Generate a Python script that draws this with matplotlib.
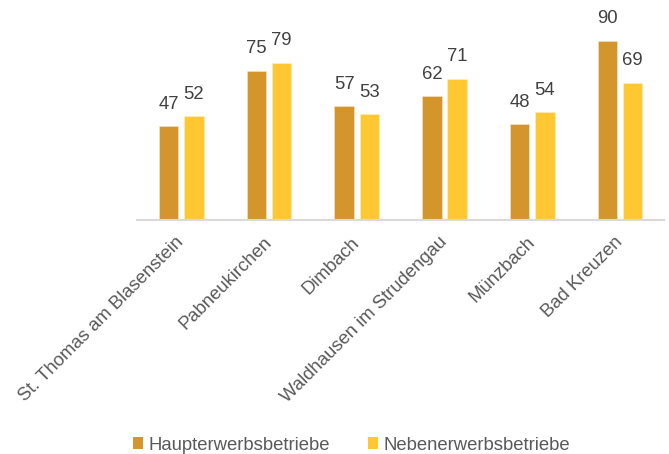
import matplotlib
matplotlib.use("Agg")
import matplotlib.pyplot as plt
import numpy as np
from matplotlib.patches import Patch

categories = ["St. Thomas am Blasenstein", "Pabneukirchen", "Dimbach",
              "Waldhausen im Strudengau", "Münzbach", "Bad Kreuzen"]
haupt = [47, 75, 57, 62, 48, 90]
neben = [52, 79, 53, 71, 54, 69]
series_names = ["Haupterwerbsbetriebe", "Nebenerwerbsbetriebe"]
colors = ["#D4962C", "#FFC832"]

plt.rcParams['font.family'] = ['Liberation Sans', 'DejaVu Sans']
FS = 13.3

fig = plt.figure(figsize=(6.69, 4.54), dpi=100)
W, H = 669, 454
left, right, bottom, top = 137.3, 664, 220.5, 10
ax = fig.add_axes([left / W, 1 - bottom / H, (right - left) / W, (bottom - top) / H])

x = np.arange(len(categories))
bw = 0.222
off = 0.1435
b1 = ax.bar(x - off, haupt, bw, color=colors[0], edgecolor="#F5E6C8", linewidth=0.4)
b2 = ax.bar(x + off, neben, bw, color=colors[1], edgecolor="#FFF0C0", linewidth=0.4)

for bars, vals in ((b1, haupt), (b2, neben)):
    for r, v in zip(bars, vals):
        ax.annotate(str(v), (r.get_x() + r.get_width() / 2, v), xytext=(0, 10),
                    textcoords="offset points", ha="center", va="bottom",
                    fontsize=FS, color="#404040")

ax.set_xlim(-0.5, len(categories) - 0.5)
ax.set_ylim(0, (bottom - top) / 2.0)
ax.set_yticks([])
ax.set_xticks(x)
ax.set_xticklabels(categories, rotation=45, ha="right", va="center",
                   rotation_mode="anchor", fontsize=FS, color="#595959")
ax.tick_params(axis="x", length=0, pad=14)
for s in ["top", "right", "left"]:
    ax.spines[s].set_visible(False)
ax.spines["bottom"].set_color("#D9D9D9")
ax.spines["bottom"].set_linewidth(1.5)

handles = [Patch(facecolor=colors[0], label=series_names[0]),
           Patch(facecolor=colors[1], label=series_names[1])]
leg = fig.legend(handles=handles, loc="center", bbox_to_anchor=(351.5 / W, 1 - 445 / H),
                 ncol=2, frameon=False, fontsize=FS, handlelength=0.55, handleheight=0.55,
                 handletextpad=0.25, columnspacing=2.1, borderpad=0)
for t in leg.get_texts():
    t.set_color("#595959")

fig.savefig("out.png", dpi=100)
